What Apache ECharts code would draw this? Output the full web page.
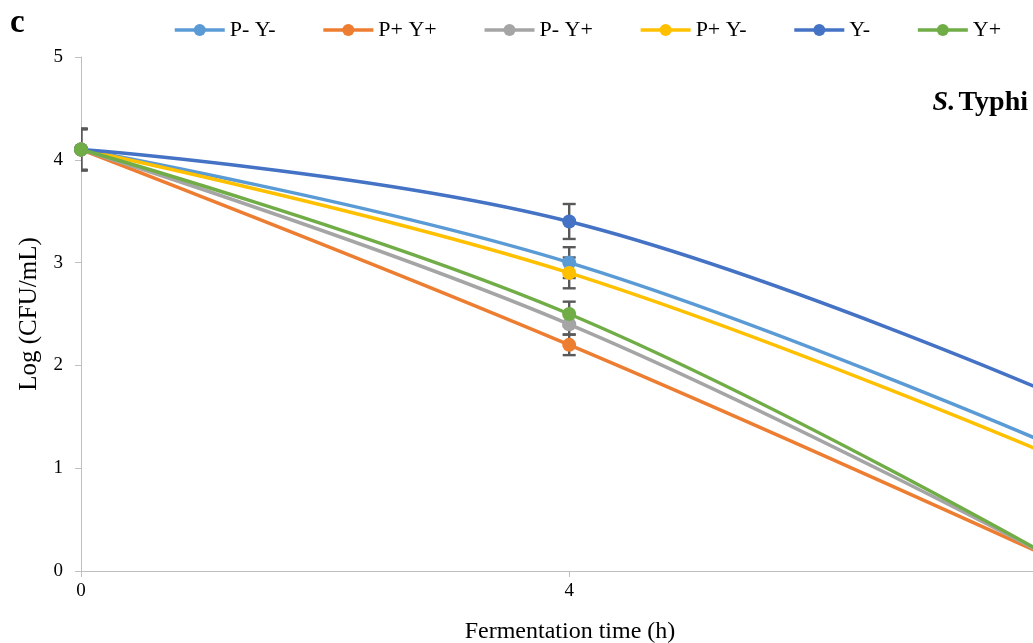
<!DOCTYPE html>
<html>
<head>
<meta charset="utf-8">
<script src="https://cdn.jsdelivr.net/npm/echarts@6/dist/echarts.min.js"></script>
<style>html,body{margin:0;padding:0;background:#fff}#c{width:1033px;height:643px}</style>
</head>
<body>
<div id="c"></div>
<script>
var times = [0, 4, 8];
var seriesNames = ['P- Y-', 'P+ Y+', 'P- Y+', 'P+ Y-', 'Y-', 'Y+'];
var colors = ['#5B9BD5', '#ED7D31', '#A5A5A5', '#FFC000', '#4472C4', '#70AD47'];
var valPmYm = [4.1, 3.0, 1.2];
var valPpYp = [4.1, 2.2, 0.1];
var valPmYp = [4.1, 2.4, 0.1];
var valPpYm = [4.1, 2.9, 1.1];
var valYm   = [4.1, 3.4, 1.7];
var valYp   = [4.1, 2.5, 0.1];
var errPmYm = [0.2, 0.15, 0.1];
var errPpYp = [0.2, 0.10, 0.1];
var errPmYp = [0.2, 0.10, 0.1];
var errPpYm = [0.2, 0.15, 0.1];
var errYm   = [0.2, 0.17, 0.1];
var errYp   = [0.2, 0.12, 0.1];
var xTicks = [0, 4, 8];
var yTicks = [0, 1, 2, 3, 4, 5];

var values = [valPmYm, valPpYp, valPmYp, valPpYm, valYm, valYp];
var errors = [errPmYm, errPpYp, errPmYp, errPpYm, errYm, errYp];
var FONT = 'Liberation Serif';

var series = [];
var errData = [];
values.forEach(function (vals, si) {
  vals.forEach(function (v, i) {
    errData.push([times[i], v - errors[si][i], v + errors[si][i]]);
  });
});
series.push({
  type: 'custom',
  name: 'err',
  z: 1,
  clip: true,
  silent: true,
  data: errData,
  renderItem: function (params, api) {
    var x = api.value(0);
    var lo = api.coord([x, api.value(1)]);
    var hi = api.coord([x, api.value(2)]);
    var hw = 6.5;
    var st = { stroke: '#595959', lineWidth: 2.4 };
    return {
      type: 'group',
      children: [
        { type: 'line', shape: { x1: lo[0], y1: lo[1], x2: hi[0], y2: hi[1] }, style: st },
        { type: 'line', shape: { x1: lo[0] - hw, y1: lo[1], x2: lo[0] + hw, y2: lo[1] }, style: st },
        { type: 'line', shape: { x1: hi[0] - hw, y1: hi[1], x2: hi[0] + hw, y2: hi[1] }, style: st }
      ]
    };
  }
});
values.forEach(function (vals, si) {
  series.push({
    type: 'line',
    name: seriesNames[si],
    z: 2 + si,
    smooth: 0.4,
    symbol: 'circle',
    symbolSize: 14,
    showAllSymbol: true,
    clip: true,
    data: vals.map(function (v, i) { return [times[i], v]; }),
    lineStyle: { color: colors[si], width: 3.5 },
    itemStyle: { color: colors[si] },
    emphasis: { disabled: true }
  });
});

var chart = echarts.init(document.getElementById('c'), null, { renderer: 'canvas' });
chart.setOption({
  animation: false,
  backgroundColor: '#fff',
  textStyle: { fontFamily: FONT },
  color: colors,
  grid: { left: 81, right: 0, top: 57, bottom: 72, containLabel: false, outerBoundsMode: 'none' },
  legend: {
    data: seriesNames,
    left: 168,
    top: 14,
    itemWidth: 50,
    itemHeight: 15,
    itemGap: 46,
    lineStyle: { width: 3.5 },
    textStyle: { fontFamily: FONT, fontSize: 22, color: '#000' }
  },
  graphic: [
    { type: 'text', left: 10, top: 7, style: { text: 'c', font: 'bold 33px "Liberation Serif"', fill: '#000' } },
    { type: 'text', right: 5, top: 89, style: {
        text: '{i|S.} {b|Typhi}',
        rich: {
          i: { fontFamily: FONT, fontSize: 28, fontWeight: 'bold', fontStyle: 'italic', fill: '#000' },
          b: { fontFamily: FONT, fontSize: 28, fontWeight: 'bold', fill: '#000' }
        }
      } }
  ],
  xAxis: {
    type: 'value', min: 0, max: 7.8, interval: 4,
    name: 'Fermentation time (h)', nameLocation: 'middle', nameGap: 49,
    nameTextStyle: { fontFamily: FONT, fontSize: 24, color: '#000', padding: [0, 0, 0, 26] },
    axisLine: { lineStyle: { color: '#BFBFBF', width: 1 } },
    axisTick: { show: true, length: 6, lineStyle: { color: '#BFBFBF' } },
    axisLabel: { fontFamily: FONT, fontSize: 19, color: '#000', margin: 11, showMaxLabel: false,
      formatter: function (v) { return xTicks.indexOf(v) >= 0 ? String(v) : ''; } },
    splitLine: { show: false }
  },
  yAxis: {
    type: 'value', min: 0, max: 5, interval: 1,
    name: 'Log (CFU/mL)', nameLocation: 'middle', nameGap: 39, nameRotate: 90,
    nameTextStyle: { fontFamily: FONT, fontSize: 25, color: '#000' },
    axisLine: { show: true, lineStyle: { color: '#BFBFBF', width: 1 } },
    axisTick: { show: true, length: 6, lineStyle: { color: '#BFBFBF' } },
    axisLabel: { fontFamily: FONT, fontSize: 19, color: '#000', margin: 18,
      formatter: function (v) { return yTicks.indexOf(v) >= 0 ? String(v) : ''; } },
    splitLine: { show: false }
  },
  series: series
});
</script>
</body>
</html>
